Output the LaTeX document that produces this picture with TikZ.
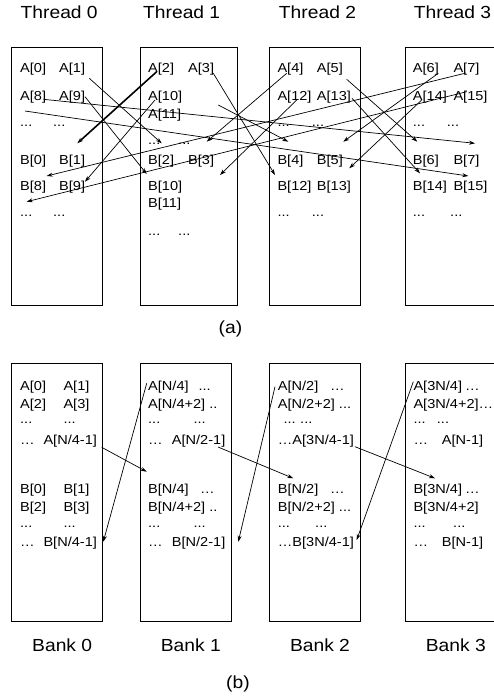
\documentclass[tikz,border=0pt]{standalone}
\usepackage{fontspec}
\setmainfont{Liberation Sans}
\newfontfamily\cellfont{Liberation Sans}[FakeStretch=1.12]
\newfontfamily\headfont{Liberation Sans}[FakeStretch=1.1]
\usetikzlibrary{arrows.meta}
\tikzset{>={Stealth[length=6pt,width=4pt]}}
\newcommand{\sdots}{...}

\begin{document}
\begin{tikzpicture}[x=1pt, y=-1pt,
  cell/.style={anchor=base west, inner sep=0pt, font=\cellfont\fontsize{13}{14}\selectfont},
  head/.style={anchor=base, inner sep=0pt, font=\headfont\fontsize{17.5}{20}\selectfont},
  link/.style={->, line width=0.7pt}]
	\useasboundingbox (0,0) rectangle (493,698);
	\foreach \x/\w in {11.7/90.6, 140/97.7, 269.3/91, 405.7/100}
	\draw [line width=1pt] (\x,47.3) rectangle ++(\w,258);
	\foreach \x/\w in {11.7/90.6, 140/91.7, 269.3/91, 405.7/100}
	\draw [line width=1pt] (\x,363.3) rectangle ++(\w,258);
	\foreach \x/\t/\n in {59.2/Thread 0/thread0, 181.7/Thread 1/thread1, 317.5/Thread 2/thread2, 452.5/Thread 3/thread3}
	\node [head] (\n) at (\x,19) {\t};
	\foreach \x/\t/\n in {62.2/Bank 0/bank0, 190.8/Bank 1/bank1, 320/Bank 2/bank2, 455.8/Bank 3/bank3}
	\node [head] (\n) at (\x,651.3) {\t};
	\node [head] (capa) at (230.5,333.3) {(a)};
	\node [head] (capb) at (238,688.3) {(b)};
	% (a) per thread
	\foreach \x/\y/\t/\n in {20/72.5/A[0]/a0, 59/72.5/A[1]/a1, 20/101/A[8]/a8, 59/101/A[9]/a9,
	  20/126.5/\sdots/d0, 53/126.5/\sdots/d1, 20/164/B[0]/b0, 59/164/B[1]/b1,
	  20/190/B[8]/b8, 59/190/B[9]/b9, 20/216/\sdots/e0, 53/216/\sdots/e1,
	  148/72.5/A[2]/a2, 188/72.5/A[3]/a3, 148/101/A[10]/a10, 148/118/A[11]/a11,
	  148/144/\sdots/d2, 178/144/\sdots/d3, 148/164/B[2]/b2, 188/164/B[3]/b3,
	  148/190/B[10]/b10, 148/207.5/B[11]/b11, 148/235/\sdots/e2, 178/235/\sdots/e3,
	  277.3/72.5/A[4]/a4, 316.7/72.5/A[5]/a5, 277.3/101/A[12]/a12, 316.7/101/A[13]/a13,
	  277.3/126.5/\sdots/d4, 311.7/126.5/\sdots/d5, 277.3/164/B[4]/b4, 316.7/164/B[5]/b5,
	  277.3/190/B[12]/b12, 316.7/190/B[13]/b13, 277.3/216/\sdots/e4, 311.7/216/\sdots/e5,
	  412.7/72.5/A[6]/a6, 453.3/72.5/A[7]/a7, 412.7/101/A[14]/a14, 453.3/101/A[15]/a15,
	  412.7/126.5/\sdots/d6, 446.7/126.5/\sdots/d7, 412.7/164/B[6]/b6, 453.3/164/B[7]/b7,
	  412.7/190/B[14]/b14, 453.3/190/B[15]/b15, 412.7/216/\sdots/e6, 450/216/\sdots/e7}
	\node [cell] (\n) at (\x,\y) {\t};
	% (b) per bank
	\foreach \x/\y/\t/\n in {20/390/A[0]/p0, 63.3/390/A[1]/p1, 20/408/A[2]/p2, 63.3/408/A[3]/p3,
	  20/423.5/\sdots/p4, 63.3/423.5/\sdots/p5, 20/444/…/p6, 43.3/444/{A[N/4-1]}/p7,
	  20/493.5/B[0]/q0, 63.3/493.5/B[1]/q1, 20/511.7/B[2]/q2, 63.3/511.7/B[3]/q3,
	  20/527.5/\sdots/q4, 63.3/527.5/\sdots/q5, 20/546/…/q6, 43.3/546/{B[N/4-1]}/q7,
	  148/390/{A[N/4]}/p8, 198.3/390/\sdots/p9, 148/408/{A[N/4+2] ..}/p10,
	  148/423.5/\sdots/p11, 193.3/423.5/\sdots/p12, 148/444/…/p13, 171.7/444/{A[N/2-1]}/p14,
	  148/493.5/{B[N/4]}/q8, 200/493.5/…/q9, 148/511.7/{B[N/4+2] ..}/q10,
	  148/527.5/\sdots/q11, 193.3/527.5/\sdots/q12, 148/546/…/q13, 171.7/546/{B[N/2-1]}/q14,
	  277.7/390/{A[N/2]}/p15, 330/390/…/p16, 277.7/408/{A[N/2+2] ...}/p17,
	  283.3/423.5/\sdots/p18, 300/423.5/\sdots/p19, 277.7/444/{…A[3N/4-1]}/p20,
	  277.7/493.5/{B[N/2]}/q15, 330/493.5/…/q16, 277.7/511.7/{B[N/2+2] ...}/q17,
	  277.7/527.5/\sdots/q18, 315/527.5/\sdots/q19, 277.7/546/{…B[3N/4-1]}/q20,
	  413.3/390/{A[3N/4]}/p21, 465/390/…/p22, 413.3/408/{A[3N/4+2]…}/p23,
	  413.3/423.5/\sdots/p24, 436.7/423.5/\sdots/p25, 413.3/444/…/p26, 441.7/444/{A[N-1]}/p27,
	  413.3/493.5/{B[3N/4]}/q21, 465/493.5/…/q22, 413.3/511.7/{B[3N/4+2]}/q23,
	  413.3/527.5/\sdots/q24, 453/527.5/\sdots/q25, 413.3/546/…/q26, 441.7/546/{B[N-1]}/q27}
	\node [cell] (\n) at (\x,\y) {\t};
	% arrows
	\coordinate (from-a2) at (156.7,71.7);
	\coordinate (to-a2) at (77.3,143.3);
	\draw [link, line width=1.6pt] (from-a2) -- (to-a2);
	\foreach \n/\a/\b/\c/\d in {a1/89.3/78.3/161.7/143.3, a8/43.3/99.3/475/143.3,
	  a9/85/96.7/146.7/174, d0/25/111/468.3/176, a10/155/100/85/181.7,
	  a3/213.3/73.3/275/175, a11/218.3/105/288.3/141.7, a4/286.7/73.3/206.7/141.7,
	  a12/296.7/100/220/175, a5/346.7/79.3/417.3/141.7, a13/352/98.3/420/173.3,
	  a6/438.3/73.3/343.3/141.7, a14/421.7/100/349.3/168.3, a7/466/73/46.7/176,
	  a15/466.7/91.7/26.7/201.7,
	  p7/101.7/447.3/146.7/471.7, p8/146.7/383.3/103.3/541.7,
	  p14/218/447/293.3/478.3, p15/275/386.7/238.3/541.7,
	  p20/355/446.7/435/478.3, p21/413.3/381.7/356.7/540}
	{\coordinate (from-\n) at (\a,\b);
	 \coordinate (to-\n) at (\c,\d);
	 \draw [link] (from-\n) -- (to-\n);}
\end{tikzpicture}
\end{document}
